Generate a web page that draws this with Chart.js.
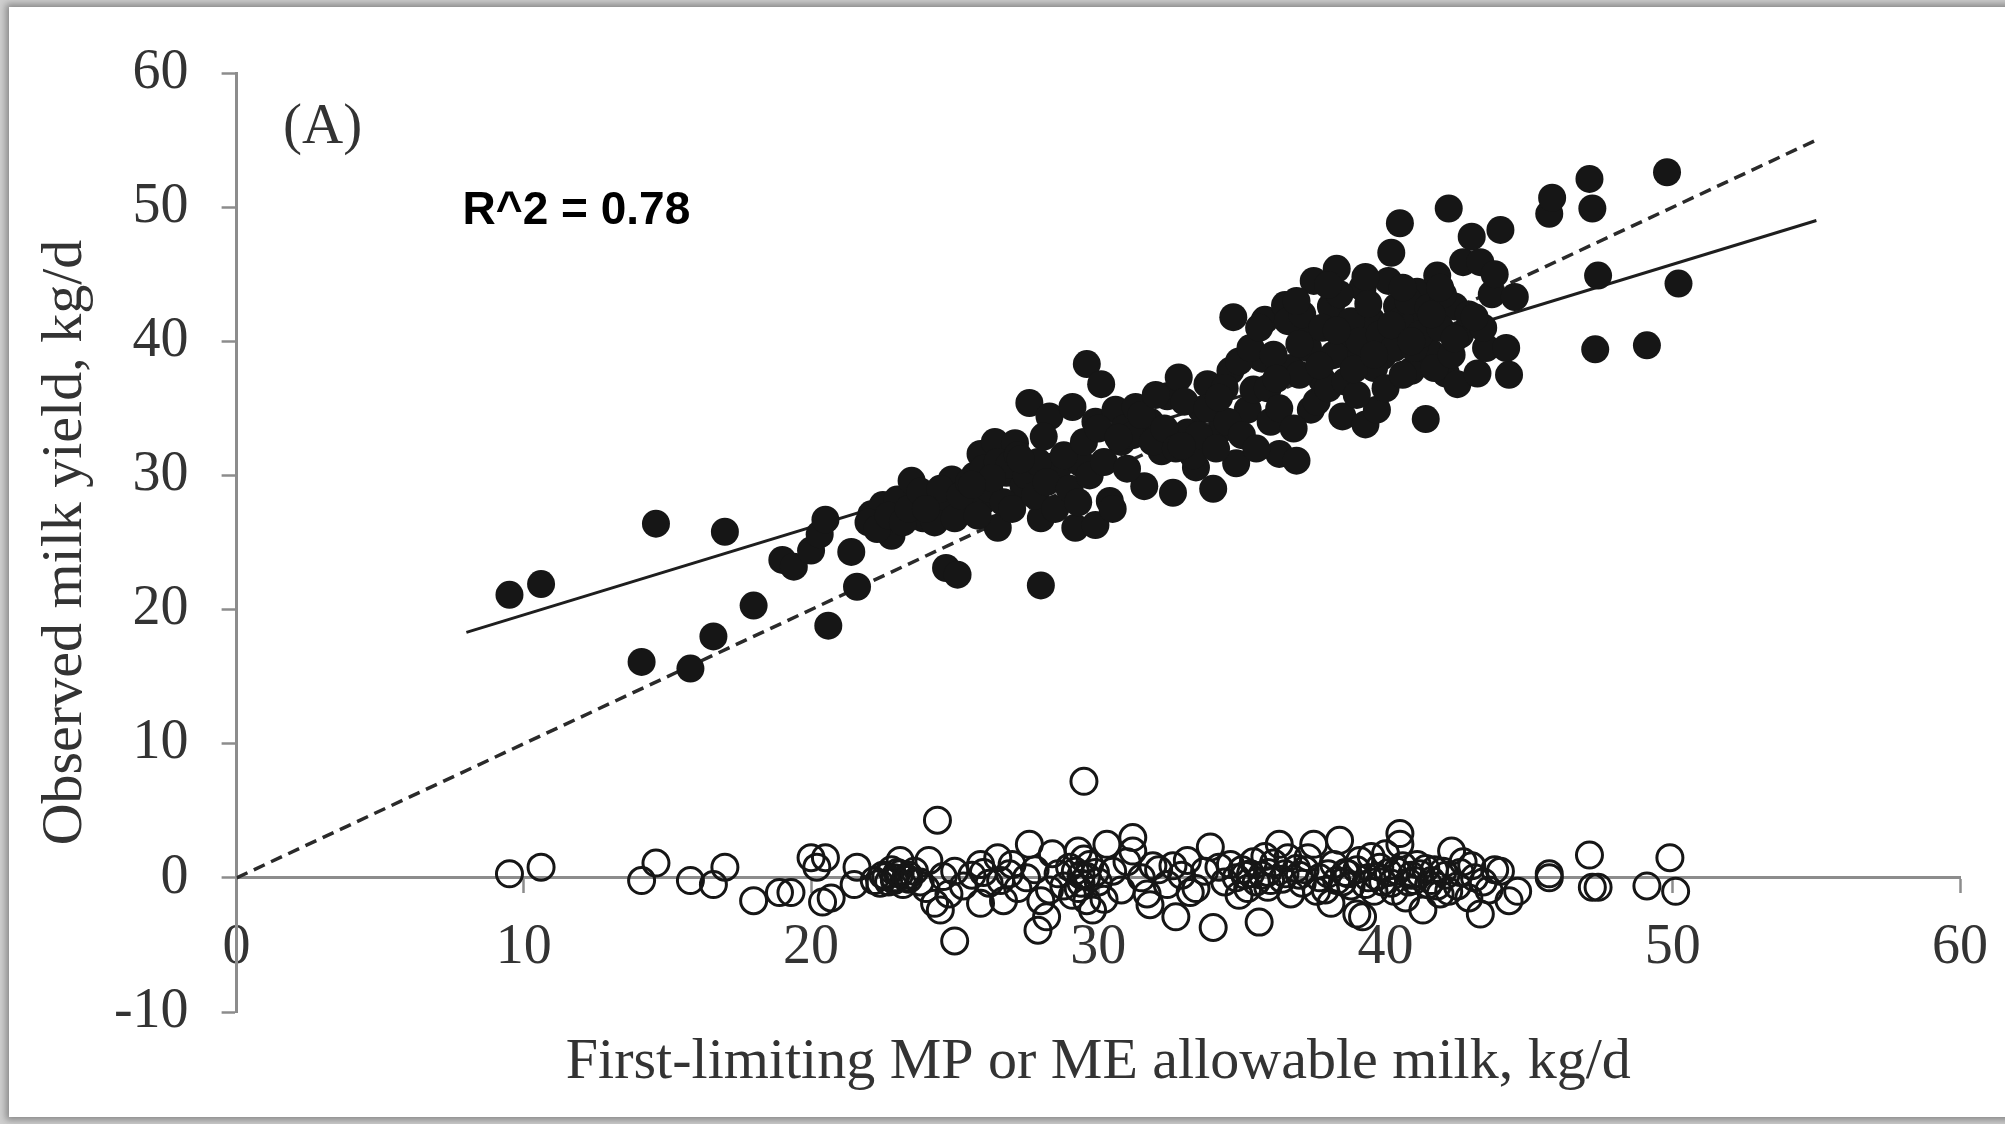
<!DOCTYPE html>
<html>
<head>
<meta charset="utf-8">
<script src="https://cdn.jsdelivr.net/npm/chart.js@4.4.0/dist/chart.umd.min.js"></script>
<style>
  html, body { margin:0; padding:0; width:2005px; height:1124px; overflow:hidden; background:#cfcfcf; }
  .marco { position:absolute; left:9px; top:7px; width:2100px; height:1110px; background:#fff; box-shadow:0 0 7px 3px rgba(0,0,0,0.35); }
  #grafico { position:absolute; left:0; top:0; }
</style>
</head>
<body>
<div class="marco"></div>
<canvas id="grafico" width="2005" height="1124"></canvas>
<script>
//Datos
const ticksX = ['0', '10', '20', '30', '40', '50', '60'];
const ticksY = ['-10', '0', '10', '20', '30', '40', '50', '60'];

//Leche permitida (x) y leche observada (y), circulos rellenos
const obsX = [9.5, 10.6, 14.1, 14.6, 15.8, 16.6, 17.0, 18.0, 19.0, 19.4, 20.0, 20.3, 20.5, 20.6, 21.4, 21.6,
  22.1, 22.5, 22.8, 23.0, 23.5, 23.9, 24.2, 24.7, 25.1, 24.6, 24.9, 25.4, 25.7, 26.0, 25.9, 26.4, 26.5, 26.8,
  27.1, 27.4, 27.6, 28.0, 28.0, 28.3, 28.6, 29.1, 29.2, 29.4, 29.6, 29.9, 29.9, 30.1, 30.4, 30.6, 30.9, 31.3,
  31.6, 31.8, 32.2, 32.4, 32.6, 32.8, 33.1, 33.4, 33.6, 33.8, 34.0, 34.3, 34.6, 34.7, 34.8, 35.2, 35.4, 35.7,
  35.8, 36.0, 36.3, 36.5, 36.7, 36.9, 37.2, 37.4, 37.5, 37.8, 38.1, 38.3, 38.5, 38.7, 38.9, 39.2, 39.3, 39.5,
  39.7, 39.9, 40.2, 40.4, 40.5, 40.7, 40.9, 41.1, 41.3, 41.4, 41.6, 41.8, 42.1, 42.2, 42.4, 42.5, 42.7, 43.0,
  43.2, 43.3, 43.5, 43.7, 44.0, 44.3, 44.5, 45.7, 45.8, 47.1, 47.2, 47.3, 47.4, 49.1, 49.8, 50.2,
  22.0, 22.3, 22.7, 23.2, 23.4, 23.8, 24.3, 24.5, 25.0, 25.2, 25.5, 25.8, 26.0, 26.2, 26.5, 26.7, 26.9, 27.0,
  27.2, 27.5, 27.8, 27.9, 28.2, 28.5, 28.8, 29.0, 29.3, 29.5, 29.7, 30.0, 30.2, 30.5, 30.8, 31.0, 31.2, 31.5,
  31.9, 32.0, 32.3, 32.7, 33.0, 33.3, 33.5, 33.8, 34.1, 34.4, 34.5, 34.9, 35.0, 35.3, 35.5, 35.6, 35.9, 36.1,
  36.3, 36.6, 36.8, 37.0, 37.1, 37.3, 37.6, 37.8, 38.0, 38.2, 38.4, 38.6, 38.8, 39.0, 39.1, 39.4, 39.6, 39.8,
  40.0, 40.1, 40.3, 40.5, 40.6, 40.8, 41.0, 41.2, 41.5, 41.7, 41.9, 42.0, 42.3, 42.6, 42.9, 43.4, 43.8, 44.2,
  36.2, 37.0, 37.7, 38.3, 38.9, 39.6, 40.2, 40.9, 41.6, 42.4, 43.1, 36.9, 38.0, 39.3, 40.6, 41.9,
  26.3, 27.3, 28.1, 24.0, 25.6, 30.7, 32.9, 34.2];
const obsY = [21.1, 21.9, 16.1, 26.4, 15.6, 18.0, 25.8, 20.3, 23.7, 23.2, 24.4, 25.6, 26.7, 18.8, 24.3, 21.7,
  27.1, 27.8, 25.5, 28.2, 29.6, 26.8, 28.4, 23.1, 22.6, 27.3, 29.7, 27.8, 30.0, 28.1, 31.6, 32.5, 26.1, 30.2,
  32.4, 29.2, 35.4, 21.8, 26.8, 34.4, 30.6, 35.1, 26.1, 30.9, 38.3, 26.3, 34.0, 36.8, 28.1, 34.9, 33.5, 35.1,
  29.2, 34.0, 31.8, 35.9, 28.7, 37.3, 33.2, 30.6, 34.9, 36.8, 29.0, 33.5, 37.8, 41.8, 30.9, 34.9, 36.4, 38.7,
  41.6, 34.0, 31.6, 42.7, 38.0, 31.1, 40.2, 34.9, 44.5, 37.1, 42.6, 45.4, 34.4, 39.9, 38.3, 44.0, 33.8, 41.6,
  34.9, 38.9, 46.6, 42.6, 48.8, 40.5, 37.8, 43.7, 41.6, 34.2, 39.1, 44.9, 37.6, 49.9, 42.6, 36.8, 45.9, 47.8,
  37.6, 45.9, 39.5, 43.5, 48.3, 37.5, 43.3, 49.5, 50.7, 52.1, 49.9, 39.4, 44.9, 39.7, 52.6, 44.3,
  26.5, 26.0, 27.0, 26.5, 27.5, 28.8, 26.5, 29.0, 26.8, 28.5, 29.5, 27.0, 30.5, 29.0, 31.0, 28.0, 30.8, 27.5,
  31.5, 30.0, 28.5, 31.0, 29.5, 27.5, 31.5, 29.0, 28.0, 32.5, 30.0, 33.5, 31.0, 27.5, 32.5, 30.5, 33.0, 34.5,
  32.5, 36.0, 33.5, 32.0, 35.5, 31.5, 33.0, 35.0, 32.0, 36.5, 34.0, 38.5, 33.0, 39.5, 32.0, 41.0, 36.5, 39.0,
  35.0, 41.5, 33.5, 37.5, 42.0, 39.5, 35.5, 41.0, 36.5, 39.0, 43.5, 37.0, 41.5, 36.0, 40.0, 42.8, 38.0, 40.5,
  36.5, 44.5, 39.5, 41.5, 37.5, 43.0, 39.5, 40.5, 42.5, 38.0, 41.0, 43.5, 39.0, 40.5, 42.0, 41.0, 45.0, 39.5,
  37.2, 39.8, 38.2, 40.8, 37.9, 39.0, 41.2, 40.0, 42.0, 40.2, 41.8, 43.0, 44.2, 44.8, 44.0, 44.0,
  29.8, 31.2, 32.9, 27.5, 29.3, 32.8, 32.2, 35.8];

//Residuos (circulos abiertos)
const resX = [9.5, 10.6, 14.1, 14.6, 15.8, 16.6, 17.0, 18.0, 18.9, 19.3, 20.0, 20.2, 20.5, 20.4, 20.7, 21.5,
  21.6, 22.2, 22.5, 22.7, 22.9, 23.0, 23.1, 23.2, 23.4, 23.8, 24.1, 24.3, 24.4, 24.5, 24.6, 25.0, 25.0, 25.3,
  25.6, 25.9, 25.9, 26.2, 26.5, 26.7, 26.9, 27.2, 27.6, 27.5, 27.9, 28.0, 28.2, 28.4, 28.6, 28.8, 29.0, 29.3,
  29.3, 29.5, 29.4, 29.6, 29.7, 29.8, 30.0, 30.3, 30.5, 30.8, 31.0, 31.2, 31.2, 31.5, 31.7, 31.8, 32.1, 32.4,
  32.7, 32.9, 33.1, 33.4, 33.7, 33.9, 34.0, 34.2, 34.4, 34.6, 34.8, 35.0, 35.2, 35.4, 35.6, 35.7, 35.9, 36.1,
  36.3, 36.5, 36.7, 36.9, 37.1, 37.3, 37.5, 37.7, 37.9, 38.1, 38.2, 38.4, 38.6, 38.8, 39.0, 39.1, 39.2, 39.4,
  39.6, 39.8, 40.0, 40.2, 40.4, 40.5, 40.5, 40.7, 40.9, 41.1, 41.3, 41.5, 41.7, 41.9, 42.1, 42.3, 42.5, 42.7,
  42.9, 43.1, 43.3, 43.6, 43.8, 44.0, 44.3, 44.6, 45.7, 45.7, 47.1, 47.2, 47.4, 49.1, 49.9, 50.1,
  22.4, 22.8, 23.3, 23.6, 24.0, 24.8, 26.0, 26.6, 27.0, 27.8, 28.3, 29.1, 29.5, 29.9, 30.2, 31.9, 32.6, 33.2,
  34.9, 35.3, 35.8, 36.0, 36.6, 37.2, 37.6, 38.0, 38.5, 39.0, 39.5, 39.9, 40.3, 40.6, 41.0, 41.4, 41.8, 42.2,
  42.6, 43.0, 43.4,
  22.6, 22.9, 23.1, 23.4, 29.2, 29.4, 29.6, 35.1, 35.5, 35.9, 36.4, 37.0, 38.3, 38.7, 39.3, 39.7, 40.1, 40.8,
  41.2, 41.6, 42.0];
const resY = [0.3, 0.8, -0.2, 1.1, -0.2, -0.5, 0.8, -1.7, -1.1, -1.1, 1.5, 0.8, 1.5, -1.8, -1.5, -0.5,
  0.8, -0.2, 0.2, -0.3, 0.0, 0.4, 1.3, -0.5, 0.2, -0.3, 1.3, -1.9, 4.3, -2.4, 0.1, -4.7, 0.5, -0.6,
  0.2, -1.9, 1.0, -0.4, 1.5, -1.7, 0.3, -0.8, 2.5, 0.0, -3.9, -1.7, -2.9, 1.8, 0.3, -0.6, 0.8, 2.0,
  -0.8, 7.2, 0.2, -1.7, 1.0, -2.4, -0.3, 2.5, 0.5, -0.9, 1.2, 3.0, 2.0, 0.0, -1.2, -2.0, 0.6, -0.5,
  -2.9, 0.2, 1.3, -0.8, 0.5, 2.3, -3.7, 0.8, -0.3, 1.0, 0.0, 0.6, -0.8, 1.2, -3.3, 0.2, -0.7, 1.1,
  2.5, 0.3, -1.2, 0.7, -0.4, 1.5, 2.5, 0.0, -0.9, -1.9, 1.0, 2.8, 0.4, -0.6, -2.7, 1.3, -2.9, 0.0,
  -1.0, 0.8, 1.8, -0.4, 0.5, 3.3, 2.5, -1.5, 0.2, 1.0, -2.4, -0.5, 0.6, -1.2, 0.2, 2.0, -0.6, 1.2,
  -1.5, 0.0, -2.7, -0.9, 0.6, 0.5, -1.7, -1.0, 0.3, 0.0, 1.7, -0.7, -0.7, -0.6, 1.5, -1.0,
  -0.4, 0.6, 0.0, 0.5, -0.8, -1.2, 0.4, -0.2, 1.0, 0.6, -0.9, -1.3, 1.4, 0.4, -1.6, 0.9, 0.9, -1.1,
  -1.3, 0.3, 1.6, -0.2, 1.5, 0.6, -1.0, 0.3, -0.3, 0.6, 1.6, -0.3, -1.0, 0.9, -0.2, 0.7, -0.6, -1.0,
  0.4, 0.9, -0.3,
  0.1, -0.2, 0.3, -0.1, 0.5, -0.4, 0.1, 0.2, -0.3, 0.4, -0.1, 0.2, -0.2, 0.3, -0.5, 0.1, 0.4, -0.3,
  0.3, -0.2, 0.5];

//Recta de regresion y recta 1:1 (extremos leidos)
const ajusteX = [8, 55];
const ajusteY = [18.3, 49.0];
const unidadX = [0, 55];
const unidadY = [0, 55];

const textoR2 = 'R^2 = 0.78';
const textoPanel = '(A)';

const aPuntos = (xs, ys) => xs.map((x, i) => ({x: x, y: ys[i]}));

const colorEje = '#8c8c8c';
const colorTexto = '#333333';
const fuenteSerif = 'Liberation Serif';

//Textos dentro del area del grafico
const rotulos = {
    id: 'rotulos',
    afterDraw(chart) {
        const {ctx, chartArea} = chart;
        ctx.save();
        ctx.textBaseline = 'middle';
        ctx.textAlign = 'center';
        ctx.fillStyle = colorTexto;
        ctx.font = '57px "' + fuenteSerif + '"';
        ctx.fillText(textoPanel, chartArea.left + 86, chartArea.top + 55);
        ctx.textAlign = 'left';
        ctx.fillStyle = '#000';
        ctx.font = 'bold 46px "Liberation Sans"';
        ctx.fillText(textoR2, chartArea.left + 226, chartArea.top + 138);
        ctx.restore();
    }
};

const grafico = document.querySelector('#grafico');

new Chart(grafico, {
    type: 'scatter',
    data: {
        datasets: [
            {
                label: 'Observado',
                data: aPuntos(obsX, obsY),
                pointRadius: 14,
                pointBackgroundColor: '#161616',
                pointBorderWidth: 0,
                order: 1
            },
            {
                label: 'Residuo',
                data: aPuntos(resX, resY),
                pointRadius: 13,
                pointBackgroundColor: 'rgba(0,0,0,0)',
                pointBorderColor: '#161616',
                pointBorderWidth: 3,
                order: 1
            },
            {
                type: 'line',
                label: 'Ajuste',
                data: aPuntos(ajusteX, ajusteY),
                borderColor: '#1e1e1e',
                borderWidth: 3,
                pointRadius: 0,
                order: 2
            },
            {
                type: 'line',
                label: '1:1',
                data: aPuntos(unidadX, unidadY),
                borderColor: '#2a2a2a',
                borderWidth: 3.5,
                borderDash: [12, 7],
                pointRadius: 0,
                order: 2
            }
        ]
    },
    options: {
        responsive: false,
        animation: false,
        layout: { padding: { left: 0, right: 45, top: 73, bottom: 112 } },
        plugins: {
            legend: { display: false },
            tooltip: { enabled: false }
        },
        scales: {
            x: {
                type: 'linear',
                min: 0,
                max: 60,
                position: { y: 0 },
                ticks: {
                    stepSize: 10,
                    padding: 23,
                    color: colorTexto,
                    font: { family: fuenteSerif, size: 56 },
                    callback: (v, i) => ticksX[i]
                },
                grid: { drawOnChartArea: false, drawTicks: true, tickLength: 14, tickWidth: 2.5, tickColor: colorEje },
                border: { color: colorEje, width: 3 },
                title: {
                    display: true,
                    text: 'First-limiting MP or ME allowable milk, kg/d',
                    color: colorTexto,
                    font: { family: fuenteSerif, size: 58 },
                    padding: { top: 23, bottom: 0 }
                },
                afterFit: (escala) => { escala.paddingLeft = 0; escala.paddingRight = 0; }
            },
            y: {
                type: 'linear',
                min: -10,
                max: 60,
                position: 'left',
                ticks: {
                    stepSize: 10,
                    padding: 33,
                    color: colorTexto,
                    font: { family: fuenteSerif, size: 56 },
                    callback: (v, i) => ticksY[i]
                },
                grid: { drawOnChartArea: false, drawTicks: true, tickLength: 15, tickWidth: 2.5, tickColor: colorEje },
                border: { color: colorEje, width: 3 },
                title: {
                    display: true,
                    text: 'Observed milk yield, kg/d',
                    color: colorTexto,
                    font: { family: fuenteSerif, size: 58 },
                    padding: { top: 31, bottom: 0 }
                },
                afterFit: (escala) => { escala.width = 236.6; }
            }
        }
    },
    plugins: [rotulos]
});
</script>
</body>
</html>
